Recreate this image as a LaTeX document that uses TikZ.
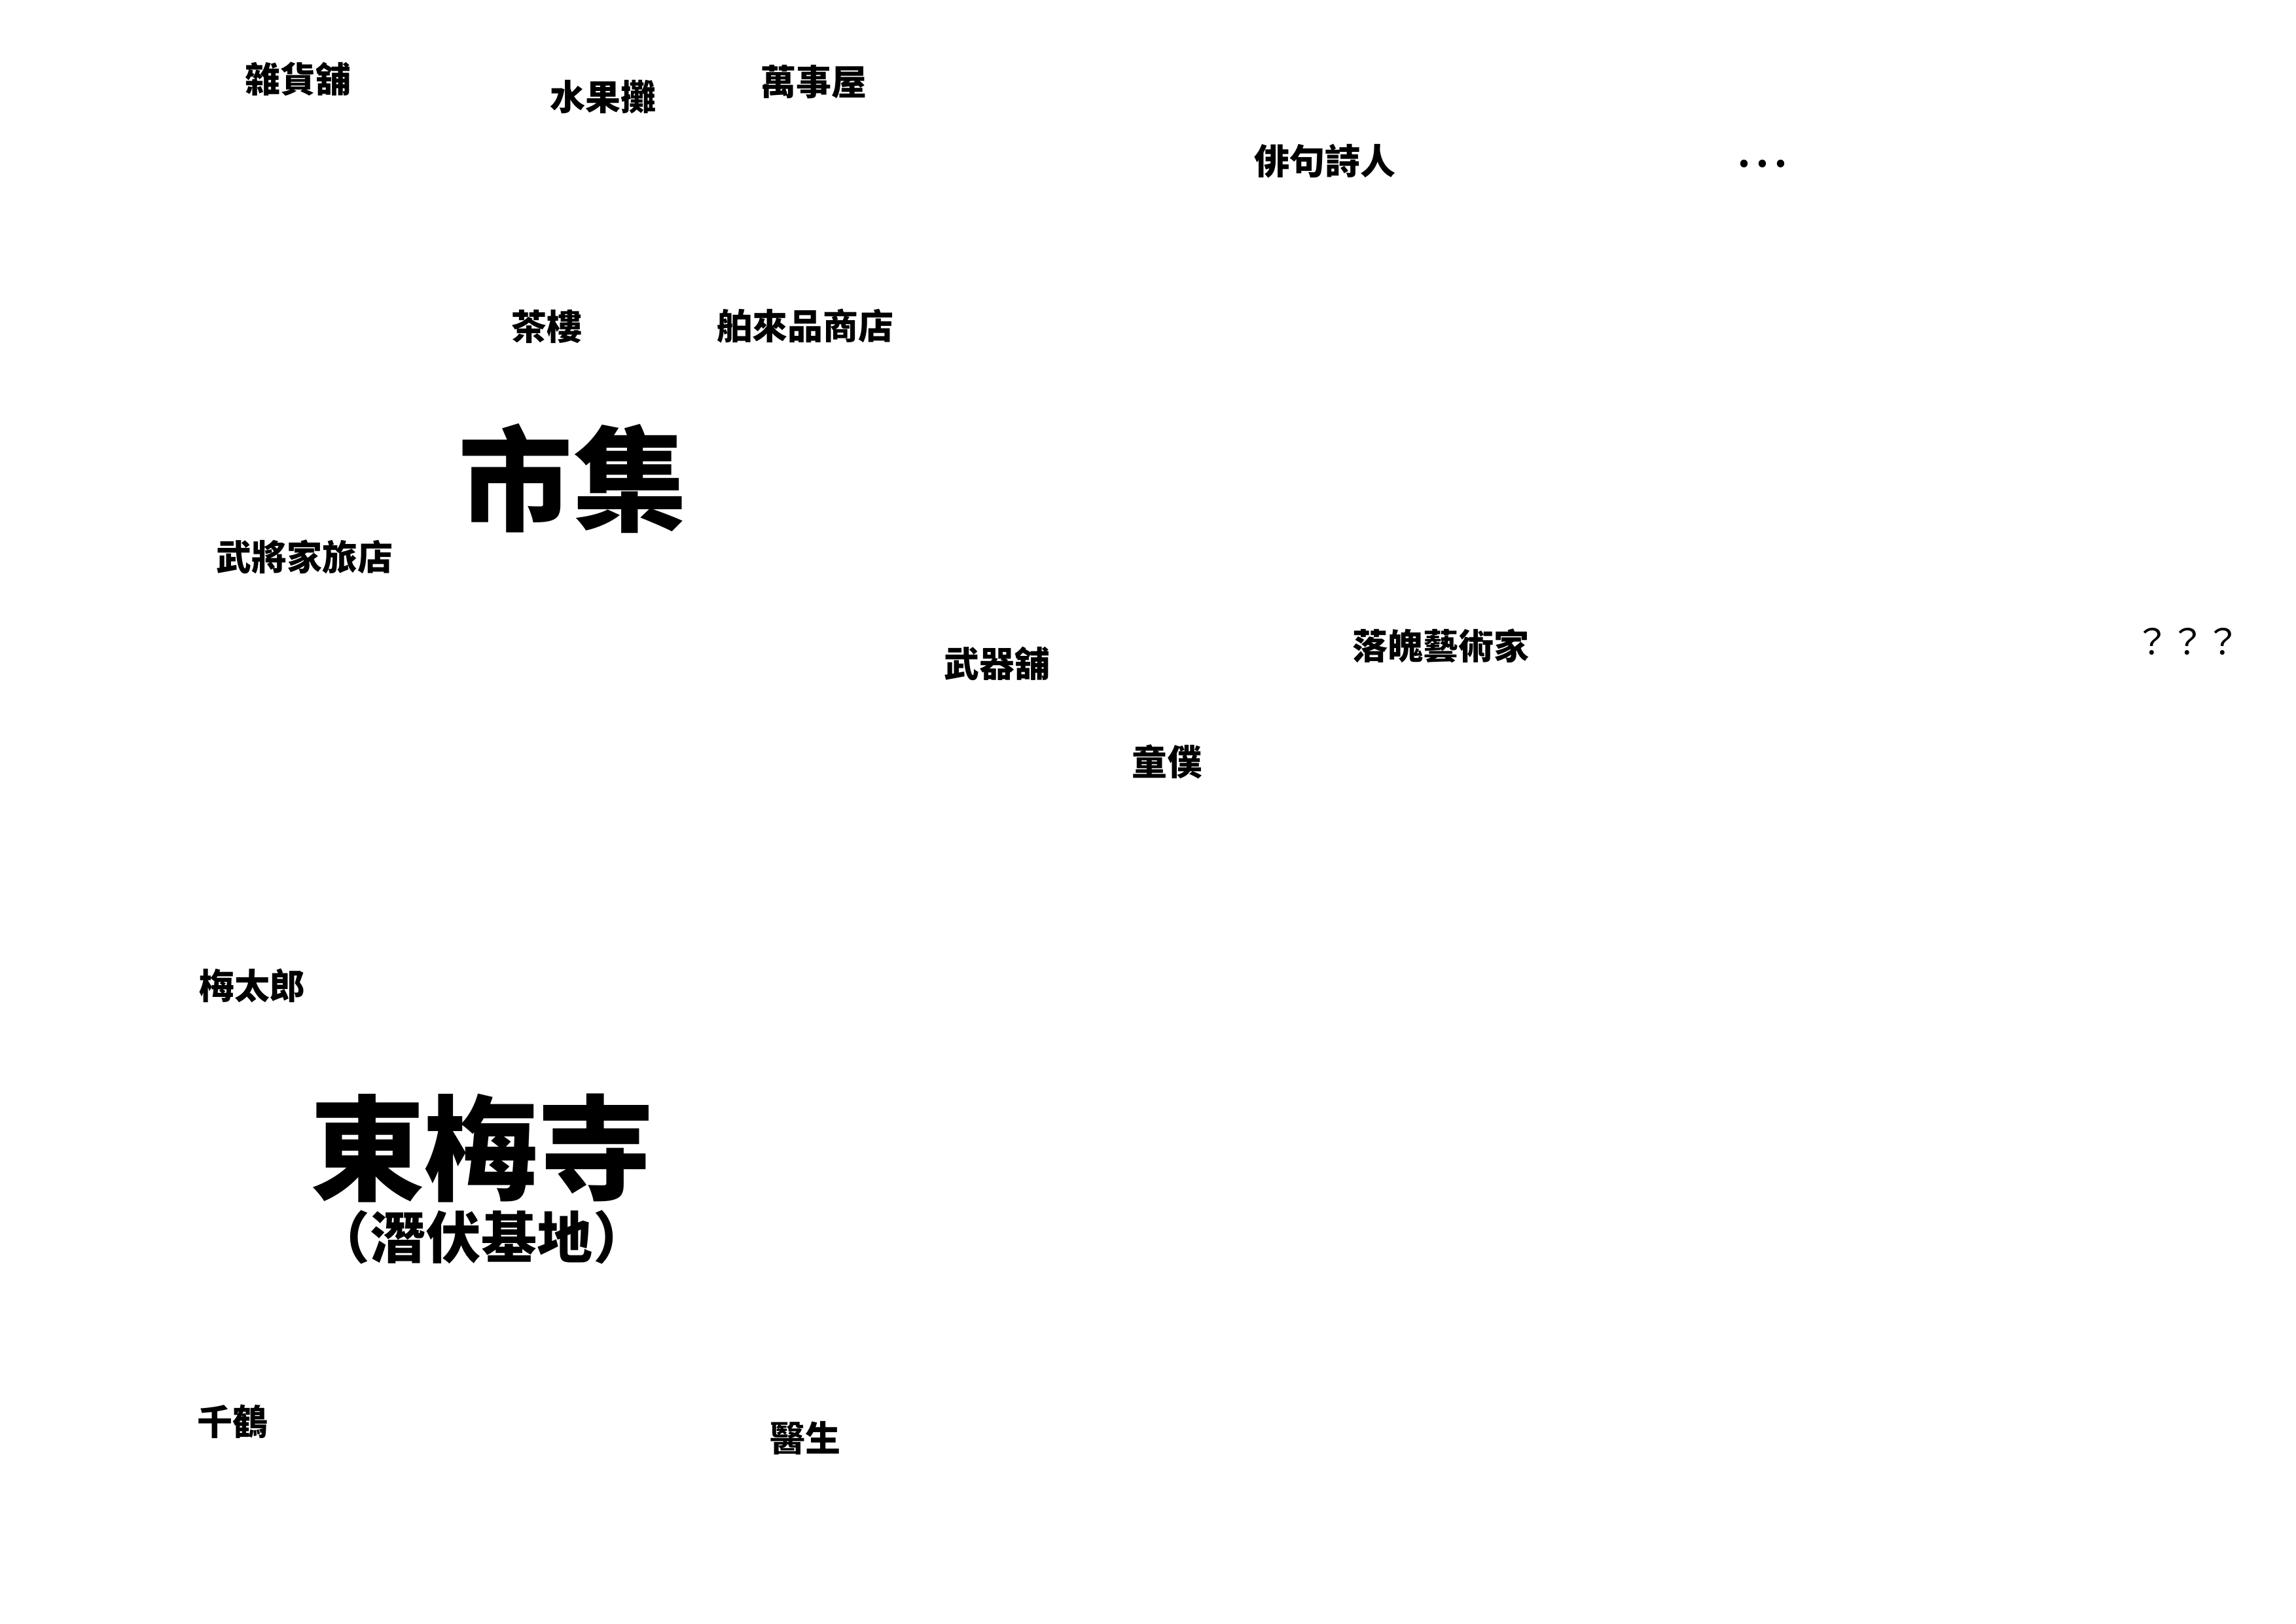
\documentclass[tikz,border=0pt]{standalone}
\usepackage{fontspec}
\usepackage{tikz}
\newfontfamily\cjk{Noto Sans CJK TC}
\tikzset{
  place/.style={inner sep=0pt,font=\cjk\bfseries\fontsize{13}{15}\selectfont},
  area/.style={inner sep=0pt,font=\cjk\bfseries\fontsize{42}{46}\selectfont},
  areanote/.style={inner sep=0pt,font=\cjk\bfseries\fontsize{20.5}{23}\selectfont}
}

\begin{document}
\begin{tikzpicture}[every node/.style={align=center}]
\useasboundingbox (0,0) rectangle (29.7,-21.0);
% market
\node[area] (shiji) at (7.41,-6.19) {市集};
\node[place] (zahuo) at (3.86,-1.02) {雜貨舖};
\node[place] (shuiguo) at (7.80,-1.25) {水果攤};
\node[place] (wanshi) at (10.53,-1.06) {萬事屋};
\node[place] (haiku) at (17.14,-2.08) {俳句詩人};
\node[place] (dots) at (22.80,-2.12) {.\,.\,.};
\node[place] (chalou) at (7.07,-4.22) {茶樓};
\node[place] (bolai) at (10.42,-4.22) {舶來品商店};
\node[place] (lvdian) at (3.94,-7.20) {武將家旅店};
\node[place] (wuqi) at (12.90,-8.58) {武器舖};
\node[place] (yishu) at (18.64,-8.35) {落魄藝術家};
\node[inner sep=0pt,font=\cjk\fontsize{13}{15}\selectfont] (unknown) at (28.30,-8.30) {？？？};
\node[place] (tongpu) at (15.10,-9.85) {童僕};
% temple
\node[place] (meitaro) at (3.26,-12.75) {梅太郎};
\node[area] (tomei) at (6.23,-14.85) {東梅寺};
\node[areanote] (jidi) at (6.23,-16.00) {（潛伏基地）};
\node[place] (chizuru) at (3.01,-18.39) {千鶴};
\node[place] (yisheng) at (10.42,-18.60) {醫生};
\end{tikzpicture}
\end{document}
